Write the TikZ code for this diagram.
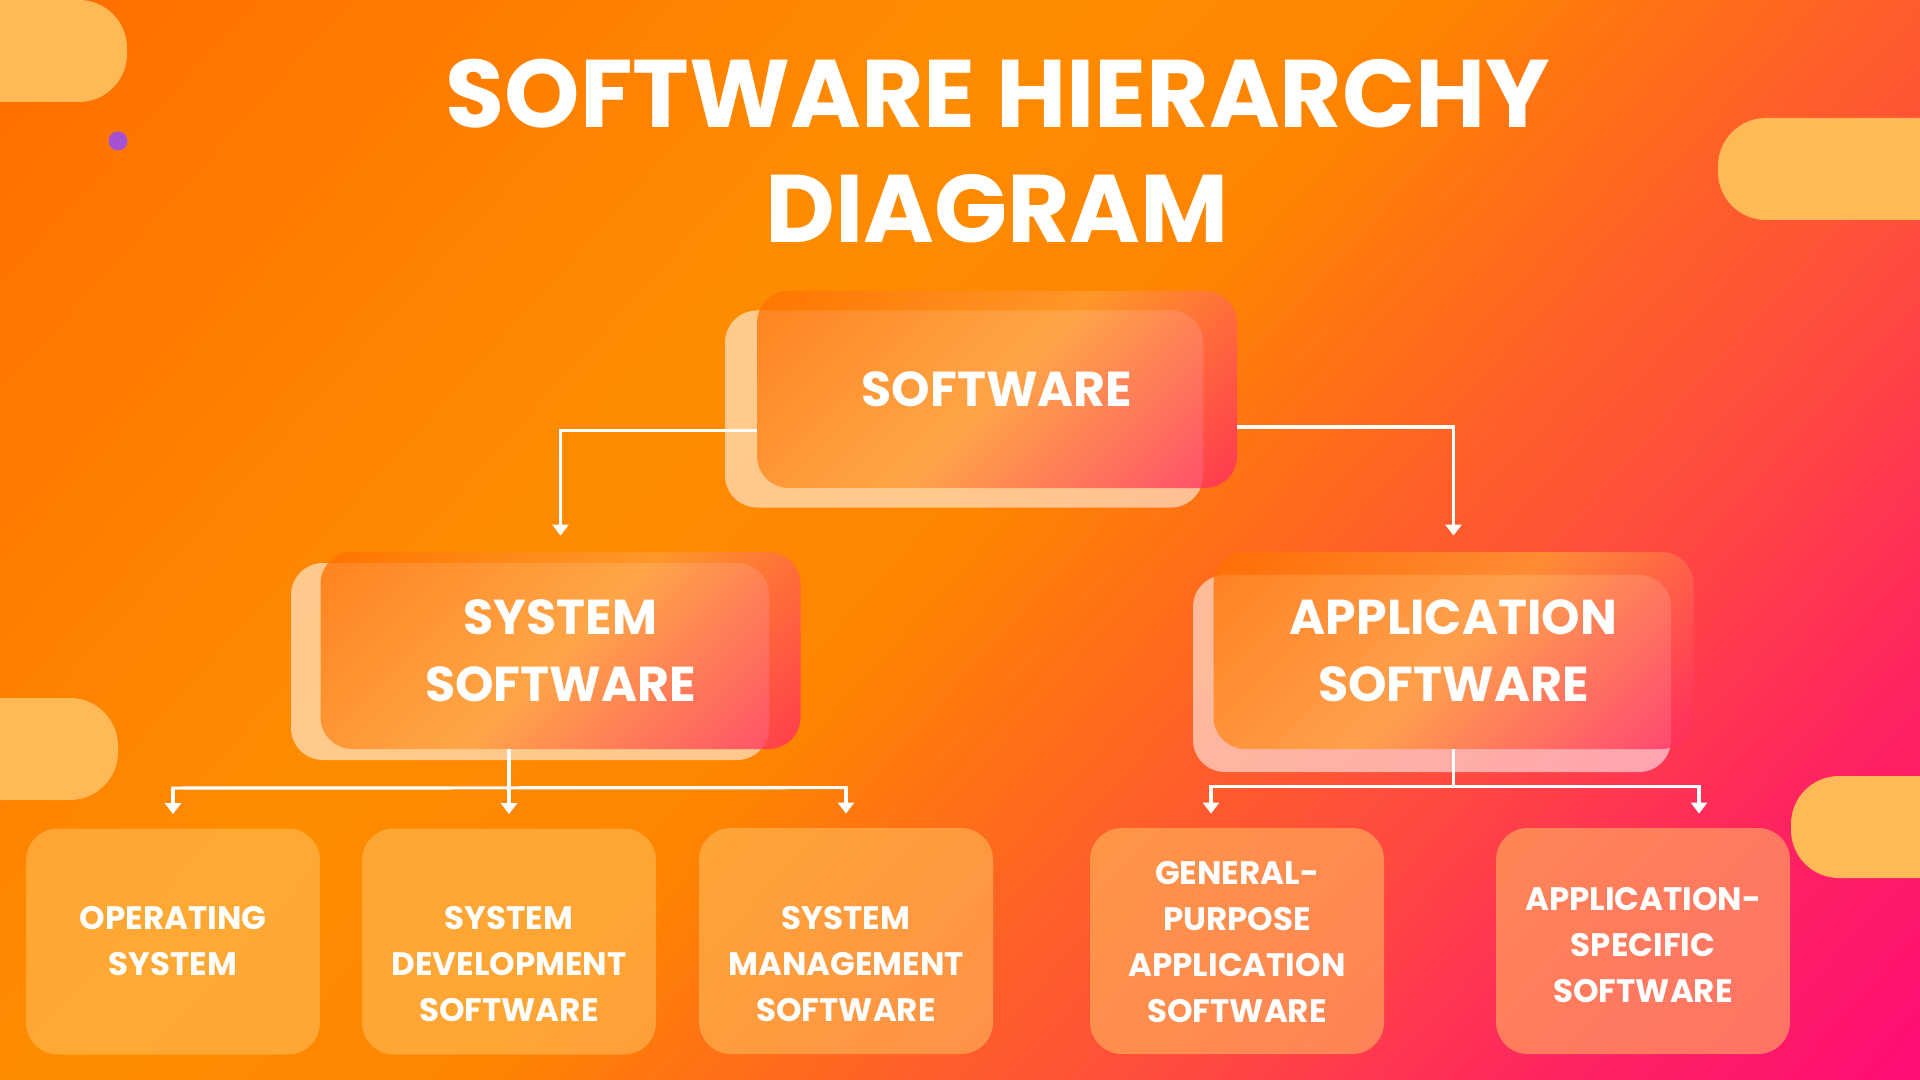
\documentclass[tikz,border=0pt]{standalone}
\usepackage{fontspec}
\setmainfont{Poppins}
\usetikzlibrary{calc,arrows.meta}

% background ramp colours
\definecolor{bgA}{HTML}{FF6C00}
\definecolor{bgB}{HTML}{FF8C00}
\definecolor{bgC}{HTML}{FF8500}
\definecolor{bgD}{HTML}{FF5C2C}
\definecolor{bgE}{HTML}{FF4A40}
\definecolor{bgF}{HTML}{FF2460}
\definecolor{bgG}{HTML}{FF0A78}
% cards, tiles and decorations
\definecolor{frA}{HTML}{FF7000}
\definecolor{frB}{HTML}{FF9C35}
\definecolor{frC}{HTML}{FF2A62}
\definecolor{tilecol}{HTML}{FFC060}
\definecolor{pillcol}{HTML}{FFB957}
\definecolor{dotcol}{HTML}{A452D2}

\pgfdeclarehorizontalshading{bgshade}{100bp}{color(0bp)=(bgA); color(25bp)=(bgA); color(42.5bp)=(bgB); color(49.75bp)=(bgC); color(57.75bp)=(bgD); color(61.8bp)=(bgE); color(68.05bp)=(bgF); color(75bp)=(bgG); color(100bp)=(bgG)}
\pgfdeclarehorizontalshading{cardshade}{100bp}{color(0bp)=(frA); color(15bp)=(frA); color(50bp)=(frB); color(85bp)=(frC); color(100bp)=(frC)}

\tikzset{
  backcard/.style={fill=white, fill opacity=0.55, rounded corners=16pt,
    minimum width=239pt, minimum height=98.5pt, inner sep=0pt},
  card/.style={shade, shading=cardshade, shading angle=-45, fill opacity=0.78,
    text opacity=1, rounded corners=16pt, minimum width=240pt,
    minimum height=98.5pt, inner sep=0pt, text=white, align=center,
    font=\fontsize{24.5}{33.5}\selectfont\bfseries},
  tile/.style={fill=tilecol, fill opacity=0.55, rounded corners=16pt,
    minimum width=147pt, minimum height=113pt, inner sep=0pt},
  tiletext/.style={text=white, align=center, inner sep=0pt,
    font=\fontsize{16.25}{23}\selectfont\bfseries},
  pill/.style={fill=pillcol, rounded corners=24pt},
  titletext/.style={text=white, inner sep=0pt,
    font=\fontsize{48}{57.5}\selectfont\bfseries},
  wire/.style={draw=white, line width=1.6pt},
  arrowwire/.style={wire, -{Triangle[width=8pt,length=5.5pt]}, shorten >=7pt},
}

\begin{document}
\begin{tikzpicture}[x=0.5pt,y=-0.5pt]
\useasboundingbox (0,0) rectangle (1920,1080);

% diagonal background ramp
\begin{scope}
  \clip (0,0) rectangle (1920,1080);
  \begin{scope}[transform canvas={rotate=-42}]
    \shade[shading=bgshade, overlay] (-20,-3000) rectangle (2180,3000);
  \end{scope}
  % decorative pills
  \fill[pill] (-100,0) rectangle (127,102);
  \fill[pill] (1718,118) rectangle (2100,220);
  \fill[pill] (-100,698) rectangle (118,800);
  \fill[pill] (1791,776) rectangle (2100,878);
  \fill[dotcol] (118,141) circle (9.5);
\end{scope}

% title
\node[titletext] (title1) at (998,94) {SOFTWARE HIERARCHY};
\node[titletext] (title2) at (997,209) {DIAGRAM};

% top level
\node[backcard] (softback) at (964,409) {};
\node[card] (soft) at (997,389.5) {SOFTWARE};

% second level
\node[backcard] (sysback) at (530,661.5) {};
\node[card] (sys) at (560.5,650.5) {SYSTEM\\SOFTWARE};
\node[backcard] (appback) at (1432,673.5) {};
\node[card] (app) at (1453.5,650.5) {APPLICATION\\SOFTWARE};

% leaves
\node[tile] (os) at (173,941.5) {};
\node[tile] (dev) at (509,941.5) {};
\node[tile] (mgt) at (846,941) {};
\node[tile] (gp) at (1237,941) {};
\node[tile] (spec) at (1643,941) {};
\node[tiletext] (ostext) at (os.center) {OPERATING\\SYSTEM};
\node[tiletext] (devtext) at ($(dev.center)+(0,22.5)$) {SYSTEM\\DEVELOPMENT\\SOFTWARE};
\node[tiletext] (mgttext) at ($(mgt.center)+(0,23)$) {SYSTEM\\MANAGEMENT\\SOFTWARE};
\node[tiletext] (gptext) at ($(gp.center)+(0,1)$) {GENERAL-\\PURPOSE\\APPLICATION\\SOFTWARE};
\node[tiletext] (spectext) at ($(spec.center)+(0,4)$) {APPLICATION-\\SPECIFIC\\SOFTWARE};

% links from the root
\draw[arrowwire, shorten >=8pt] ([yshift=-20.5pt]soft.west) -| (sys.north);
\draw[arrowwire, shorten >=8pt] ([yshift=-18.75pt]soft.east) -| (app.north);

% system software branch
\coordinate (sysbus) at ($(dev.north)+(0,-40)$);
\draw[wire] (sys.south -| dev.north) -- (sysbus);
\draw[wire, line cap=rect] ($(os.north)+(0,-40)$) -- ($(mgt.north)+(0,-40)$);
\foreach \n in {os,dev,mgt}
  \draw[arrowwire] ($(\n.north)+(0,-40)$) -- (\n.north);

% application software branch
\coordinate (gpdrop) at ($(gp.north)+(-26,-41)$);
\coordinate (specdrop) at ($(spec.north)+(56,-41)$);
\draw[wire] (app.south) -- (app.south |- gpdrop);
\draw[wire, line cap=rect] (gpdrop) -- (specdrop);
\draw[arrowwire] (gpdrop) -- (gpdrop |- gp.north);
\draw[arrowwire] (specdrop) -- (specdrop |- spec.north);
\end{tikzpicture}
\end{document}
